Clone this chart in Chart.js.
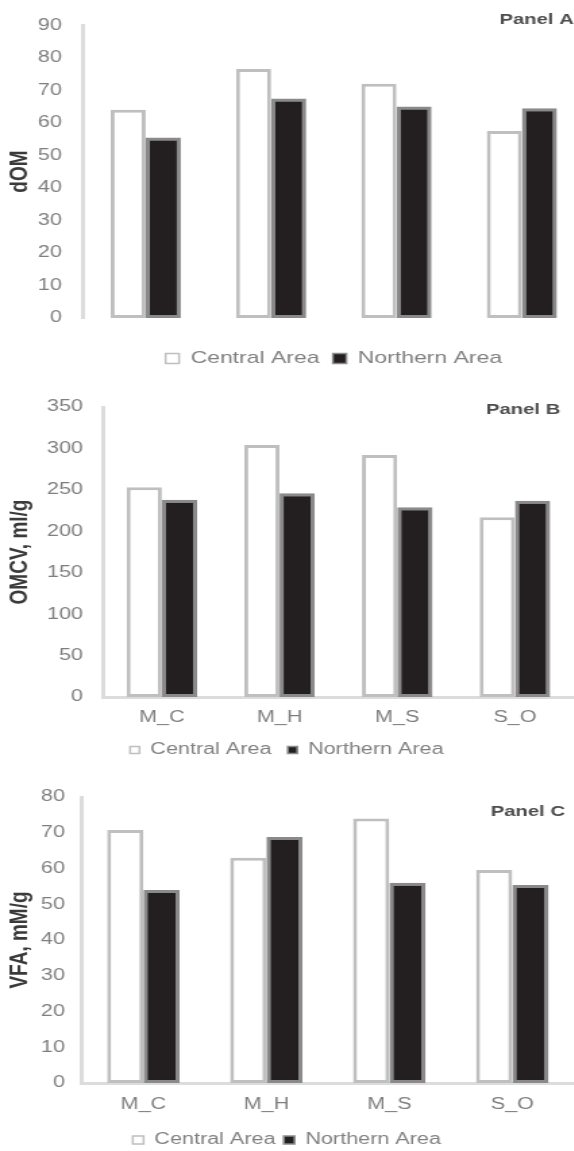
<!DOCTYPE html>
<html>
<head>
<meta charset="utf-8">
<title>Panels A-C: Central vs Northern Area</title>
<script src="https://cdn.jsdelivr.net/npm/chart.js@4.4.1/dist/chart.umd.min.js"></script>
<style>
  html, body { margin: 0; padding: 0; background: #fff; overflow: hidden; }
  /* the source figure is stretched sideways, so the canvases are too */
  canvas { display: block; transform: scaleX(1.35); transform-origin: 0 0; }
</style>
</head>
<body>
<canvas id="chartA" width="433" height="377"></canvas>
<canvas id="chartB" width="425" height="391"></canvas>
<canvas id="chartC" width="425" height="390"></canvas>
<script>
// Data
const categories = ['M_C', 'M_H', 'M_S', 'S_O'];
const seriesNames = ['Central Area', 'Northern Area'];

// Panel A - dOM
const domCentral = [64, 76.5, 72, 57.5];
const domNorthern = [55.5, 67.5, 65, 64.5];
const domMax = 90, domStep = 10;

// Panel B - OMCV
const omcvCentral = [253, 304, 292, 217];
const omcvNorthern = [238, 246, 229, 237];
const omcvMax = 350, omcvStep = 50;

// Panel C - VFA
const vfaCentral = [70.8, 63, 74, 59.6];
const vfaNorthern = [54, 68.8, 56, 55.4];
const vfaMax = 80, vfaStep = 10;

Chart.defaults.font.family = '"Liberation Sans", Arial, sans-serif';

// "Panel X" tag in the top right corner
const panelLabel = {
  id: 'panelLabel',
  afterDraw(chart, args, opts) {
    const ctx = chart.ctx;
    ctx.save();
    ctx.font = 'bold 15px "Liberation Sans", Arial, sans-serif';
    ctx.fillStyle = '#4d4d4d';
    ctx.textAlign = 'right';
    ctx.textBaseline = 'middle';
    ctx.fillText(opts.text, chart.chartArea.right - opts.dx, opts.y);
    ctx.restore();
  }
};

function makeChart(id, p) {
  return new Chart(document.getElementById(id), {
    type: 'bar',
    data: {
      labels: categories,
      datasets: [
        { label: seriesNames[0], data: p.central, backgroundColor: '#ffffff',
          borderColor: '#bfbfbf', borderWidth: 3, borderSkipped: false },
        { label: seriesNames[1], data: p.northern, backgroundColor: '#231f20',
          borderColor: '#8a8a8a', borderWidth: 3, borderSkipped: false }
      ]
    },
    options: {
      responsive: false,
      animation: false,
      categoryPercentage: p.catPct,
      barPercentage: 1,
      layout: { padding: { top: p.top, bottom: 0, left: 0, right: 0 } },
      plugins: {
        tooltip: { enabled: false },
        legend: {
          position: 'bottom',
          fullSize: p.legendFull,
          labels: {
            color: '#808080',
            font: { size: p.legendSize },
            boxWidth: p.box,
            boxHeight: p.box,
            padding: p.legendPad,
            generateLabels: chart => Chart.defaults.plugins.legend.labels
              .generateLabels(chart).map(l => ({ ...l, lineWidth: 1.5 }))
          }
        },
        panelLabel: { text: p.panel, dx: p.panelDx, y: p.panelY }
      },
      scales: {
        x: {
          grid: { display: false, drawTicks: false },
          border: { display: p.xLine, color: '#dcdcdc', width: 3 },
          ticks: { display: p.xLabels, color: '#7f7f7f', font: { size: 16 }, padding: p.xPad },
          afterFit: s => { s.height = p.xHeight; }
        },
        y: {
          min: 0,
          max: p.max,
          grid: { display: false, drawTicks: false },
          border: { display: true, color: '#dcdcdc', width: 3 },
          ticks: { stepSize: p.step, color: '#7f7f7f', font: { size: 16 }, padding: p.yPad },
          title: { display: true, text: p.title, color: '#3a3a3a',
                   font: { size: 19, weight: 'bold' }, padding: { top: 3, bottom: 0 } },
          afterFit: s => { s.width = p.yWidth; }
        }
      }
    },
    plugins: [panelLabel]
  });
}

makeChart('chartA', {
  central: domCentral, northern: domNorthern, max: domMax, step: domStep,
  title: 'dOM', panel: 'Panel A', panelDx: 8, panelY: 20,
  top: 20, yWidth: 61.5, yPad: 15.6, catPct: 0.56,
  xLine: false, xLabels: false, xPad: 0, xHeight: 22,
  legendFull: false, legendSize: 17, legendPad: 10, box: 10
});

makeChart('chartB', {
  central: omcvCentral, northern: omcvNorthern, max: omcvMax, step: omcvStep,
  title: 'OMCV, ml/g', panel: 'Panel B', panelDx: 10, panelY: 33,
  top: 30, yWidth: 76.3, yPad: 14.8, catPct: 0.6,
  xLine: true, xLabels: true, xPad: 11, xHeight: 33,
  legendFull: true, legendSize: 16, legendPad: 12, box: 7
});

makeChart('chartC', {
  central: vfaCentral, northern: vfaNorthern, max: vfaMax, step: vfaStep,
  title: 'VFA, mM/g', panel: 'Panel C', panelDx: 6.5, panelY: 44,
  top: 29, yWidth: 60.7, yPad: 12.6, catPct: 0.59,
  xLine: true, xLabels: true, xPad: 12, xHeight: 43,
  legendFull: true, legendSize: 16, legendPad: 6, box: 8
});
</script>
</body>
</html>
